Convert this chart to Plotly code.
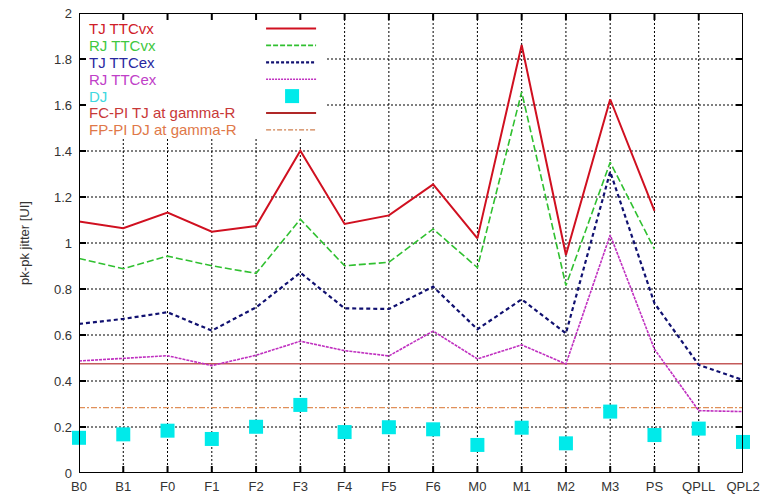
import plotly.graph_objects as go

categories = ["B0", "B1", "F0", "F1", "F2", "F3", "F4", "F5", "F6", "M0", "M1", "M2", "M3", "PS", "QPLL", "QPL2"]
y_ticks = [0, 0.2, 0.4, 0.6, 0.8, 1, 1.2, 1.4, 1.6, 1.8, 2]

tj_ttcvx = [1.093, 1.064, 1.132, 1.049, 1.074, 1.401, 1.083, 1.120, 1.255, 1.020, 1.861, 0.948, 1.625, 1.140]
rj_ttcvx = [0.933, 0.888, 0.943, 0.901, 0.868, 1.103, 0.901, 0.916, 1.061, 0.893, 1.657, 0.815, 1.351, 0.973]
tj_ttcex = [0.648, 0.670, 0.699, 0.619, 0.720, 0.871, 0.716, 0.713, 0.810, 0.625, 0.755, 0.607, 1.310, 0.738, 0.470, 0.404]
rj_ttcex = [0.487, 0.499, 0.510, 0.467, 0.512, 0.573, 0.532, 0.509, 0.617, 0.496, 0.557, 0.474, 1.035, 0.538, 0.271, 0.267]
dj = [0.153, 0.168, 0.184, 0.148, 0.201, 0.296, 0.178, 0.199, 0.190, 0.122, 0.197, 0.129, 0.267, 0.165, 0.193, 0.135]
fc_pi_tj = 0.475
fp_pi_dj = 0.284

x_all = list(range(len(categories)))
x_max = len(categories) - 1
y_min, y_max = 0, 2

W, H = 760, 500
L, R, T, B = 79, 742.75, 13, 473
pw, ph = R - L, B - T


def px(xp):
    return (xp - L) / pw


def py(yp):
    return (B - yp) / ph


fig = go.Figure()

fig.add_trace(go.Scatter(x=x_all, y=[fp_pi_dj] * len(categories), mode="lines",
                         line=dict(color="#e0905a", width=1.2, dash="6px,2px,2px,2px"), name="FP-PI DJ at gamma-R"))
fig.add_trace(go.Scatter(x=x_all, y=[fc_pi_tj] * len(categories), mode="lines",
                         line=dict(color="#c45a5a", width=1.5), name="FC-PI TJ at gamma-R"))
fig.add_trace(go.Scatter(x=x_all[:len(tj_ttcvx)], y=tj_ttcvx, mode="lines",
                         line=dict(color="#d01020", width=2), name="TJ TTCvx"))
fig.add_trace(go.Scatter(x=x_all[:len(rj_ttcvx)], y=rj_ttcvx, mode="lines",
                         line=dict(color="#30c030", width=1.6, dash="7px,3px"), name="RJ TTCvx"))
fig.add_trace(go.Scatter(x=x_all, y=tj_ttcex, mode="lines",
                         line=dict(color="#101070", width=2.2, dash="4px,3px"), name="TJ TTCex"))
fig.add_trace(go.Scatter(x=x_all, y=rj_ttcex, mode="lines",
                         line=dict(color="#c030c0", width=1.6, dash="3px,1px"), name="RJ TTCex"))
fig.add_trace(go.Scatter(x=x_all, y=dj, mode="markers", cliponaxis=False,
                         marker=dict(symbol="square", size=14, color="#00eaea"), name="DJ"))

# plot border and inner tick marks, drawn as a line trace in axis units
tkx = 7 / pw * x_max
tky = 7 / ph * (y_max - y_min)
fx = [0, x_max, x_max, 0, 0, None]
fy = [y_min, y_min, y_max, y_max, y_min, None]
for xv in x_all:
    fx += [xv, xv, None, xv, xv, None]
    fy += [y_min, y_min + tky, None, y_max - tky, y_max, None]
for yv in y_ticks:
    fx += [0, tkx, None, x_max - tkx, x_max, None]
    fy += [yv, yv, None, yv, yv, None]
fig.add_trace(go.Scatter(x=fx, y=fy, mode="lines", cliponaxis=False, hoverinfo="skip",
                         line=dict(color="#000000", width=2), name="frame"))

shapes = []
annotations = []

grid_line = dict(color="#000000", width=1, dash="2px,2px")
# dotted grid (below traces)
for xv in x_all[1:-1]:
    shapes.append(dict(type="line", xref="x", yref="y domain", x0=xv, x1=xv, y0=0, y1=1,
                       line=grid_line, layer="below"))
for yv in y_ticks[1:-1]:
    shapes.append(dict(type="line", xref="x domain", yref="y", x0=0, x1=1, y0=yv, y1=yv,
                       line=grid_line, layer="below"))
# legend background box (hides grid, sits under traces)
shapes.append(dict(type="rect", xref="x domain", yref="y domain", x0=px(80), x1=px(325), y0=py(138), y1=1,
                   fillcolor="white", line=dict(width=0), layer="below"))

legend_rows = [
    ("TJ TTCvx", "#d02028", dict(color="#d01020", width=2)),
    ("RJ TTCvx", "#40c840", dict(color="#30c030", width=1.6, dash="5px,2px")),
    ("TJ TTCex", "#2828a0", dict(color="#101070", width=2.2, dash="3px,2px")),
    ("RJ TTCex", "#c040c8", dict(color="#c030c0", width=1.4, dash="2px,1px")),
    ("DJ", "#40d8e0", None),
    ("FC-PI TJ at gamma-R", "#c83838", dict(color="#b02828", width=2)),
    ("FP-PI DJ at gamma-R", "#e07848", dict(color="#d08050", width=1.4, dash="5px,2px,2px,2px")),
]
for i, (txt, tcol, lst) in enumerate(legend_rows):
    yc = 28.5 + 16.9 * i
    annotations.append(dict(x=px(87), y=py(yc), xref="paper", yref="paper", text=txt, showarrow=False,
                            xanchor="left", yanchor="middle", font=dict(size=15, color=tcol)))
    if lst is None:
        shapes.append(dict(type="rect", xref="paper", yref="paper", x0=px(285), x1=px(299),
                           y0=py(yc + 7), y1=py(yc - 7), fillcolor="#00eaea", line=dict(width=0), layer="above"))
    else:
        shapes.append(dict(type="line", xref="paper", yref="paper", x0=px(266), x1=px(316),
                           y0=py(yc), y1=py(yc), line=lst, layer="above"))

axis_common = dict(showline=False, ticks="", showgrid=False, zeroline=False, automargin=False,
                   tickfont=dict(family="Liberation Sans, Arial", size=13, color="#333333"))

fig.update_layout(
    width=W, height=H,
    margin=dict(l=L, r=W - R, t=T, b=H - B),
    paper_bgcolor="white", plot_bgcolor="white",
    showlegend=False,
    font=dict(family="Liberation Sans, Arial", size=13, color="#333333"),
    xaxis=dict(range=[0, x_max], tickmode="array", tickvals=x_all, ticktext=categories,
               ticklabelstandoff=4, **axis_common),
    yaxis=dict(range=[y_min, y_max], tickmode="array", tickvals=y_ticks,
               ticktext=[f"{v:g}" for v in y_ticks], ticklabelstandoff=6,
               title=dict(text="pk-pk jitter [UI]", font=dict(size=13, color="#333333"), standoff=21),
               **axis_common),
    shapes=shapes,
    annotations=annotations,
)

post = "document.body.style.margin='0';document.body.style.padding='0';"
fig.write_html("out.html", post_script=post, config={"displayModeBar": False, "staticPlot": True})
